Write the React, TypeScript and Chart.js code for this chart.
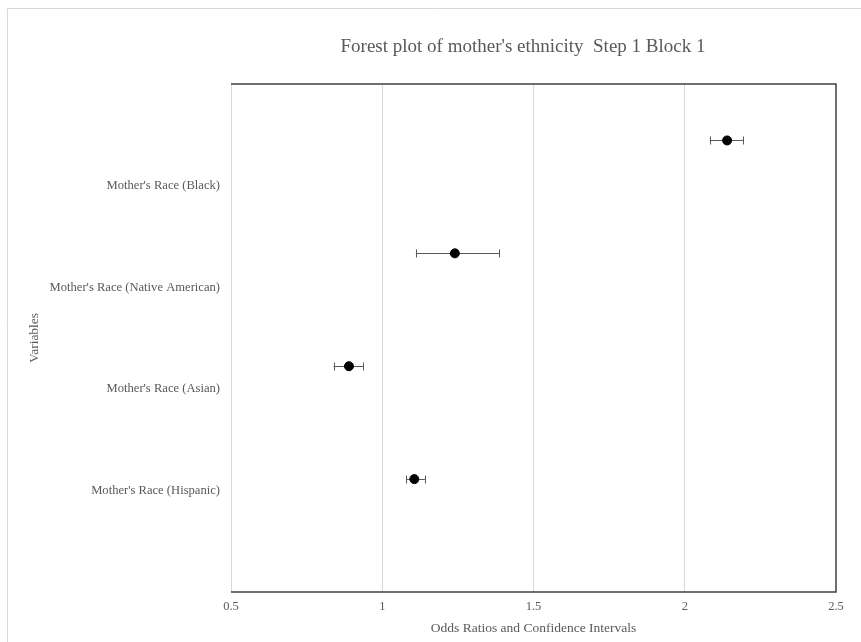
import React, { useEffect, useRef } from "react";
import { Chart, registerables } from "chart.js";

Chart.register(...registerables);

const chartTitle = "Forest plot of mother's ethnicity  Step 1 Block 1";
const xTitle = "Odds Ratios and Confidence Intervals";
const yTitle = "Variables";

// bottom to top
const categories = [
  "Mother's Race (Hispanic)",
  "Mother's Race (Asian)",
  "Mother's Race (Native American)",
  "Mother's Race (Black)",
];
const positions = [1, 2, 3, 4];
const oddsRatios = [1.106, 0.89, 1.24, 2.14];
const ciLower = [1.08, 0.839, 1.111, 2.083];
const ciUpper = [1.141, 0.937, 1.386, 2.193];
const xTicks = [0.5, 1, 1.5, 2, 2.5];

const FONT = "'Liberation Serif', 'Times New Roman', serif";
const TEXT = "#595959";
const GRID = "#d9d9d9";

const decor = {
  id: "decor",
  beforeDatasetsDraw(chart: any) {
    const ctx = chart.ctx;
    const xs = chart.scales.x;
    const ys = chart.scales.y2;
    ctx.save();
    ctx.strokeStyle = "#595959";
    ctx.lineWidth = 1;
    positions.forEach((p, i) => {
      const y = Math.round(ys.getPixelForValue(p)) + 0.5;
      const x1 = xs.getPixelForValue(ciLower[i]);
      const x2 = xs.getPixelForValue(ciUpper[i]);
      ctx.beginPath();
      ctx.moveTo(x1, y);
      ctx.lineTo(x2, y);
      ctx.moveTo(Math.round(x1) + 0.5, y - 4);
      ctx.lineTo(Math.round(x1) + 0.5, y + 4);
      ctx.moveTo(Math.round(x2) + 0.5, y - 4);
      ctx.lineTo(Math.round(x2) + 0.5, y + 4);
      ctx.stroke();
    });
    ctx.restore();
  },
  afterDraw(chart: any) {
    const ctx = chart.ctx;
    const a = chart.chartArea;
    ctx.save();
    // outer chart border
    ctx.strokeStyle = GRID;
    ctx.lineWidth = 1;
    ctx.beginPath();
    ctx.moveTo(7.5, chart.height);
    ctx.lineTo(7.5, 8.5);
    ctx.lineTo(chart.width, 8.5);
    ctx.stroke();
    // plot left border
    ctx.beginPath();
    ctx.moveTo(a.left + 0.5, a.top);
    ctx.lineTo(a.left + 0.5, a.bottom);
    ctx.stroke();
    // plot top/right/bottom border
    ctx.strokeStyle = "#404040";
    ctx.lineWidth = 1.5;
    ctx.beginPath();
    ctx.moveTo(a.left, a.top);
    ctx.lineTo(a.right, a.top);
    ctx.lineTo(a.right, a.bottom);
    ctx.lineTo(a.left, a.bottom);
    ctx.stroke();
    // title
    ctx.fillStyle = TEXT;
    ctx.font = `19px ${FONT}`;
    ctx.textAlign = "center";
    ctx.textBaseline = "middle";
    ctx.fillText(chartTitle, 523, 47);
    ctx.restore();
  },
};

export default function App() {
  const ref = useRef<HTMLCanvasElement | null>(null);
  useEffect(() => {
    if (!ref.current) return;
    const chart = new Chart(ref.current, {
      type: "scatter",
      data: {
        datasets: [
          {
            data: positions.map((p, i) => ({ x: oddsRatios[i], y: p })),
            yAxisID: "y2",
            backgroundColor: "#000000",
            borderColor: "#000000",
            pointRadius: 4.5,
            pointHoverRadius: 4.5,
          },
        ],
      },
      options: {
        responsive: false,
        animation: false,
        layout: { padding: { left: 26, right: 25, top: 84, bottom: 3 } },
        plugins: { legend: { display: false }, tooltip: { enabled: false }, title: { display: false } },
        scales: {
          x: {
            type: "linear",
            min: 0.5,
            max: 2.5,
            afterBuildTicks: (s: any) => {
              s.ticks = xTicks.map((v) => ({ value: v }));
            },
            afterFit: (s: any) => {
              s.height = 47;
            },
            grid: {
              color: (c: any) =>
                c.tick && (c.tick.value === 0.5 || c.tick.value === 2.5) ? "rgba(0,0,0,0)" : GRID,
              drawTicks: false,
            },
            border: { display: false },
            ticks: {
              color: TEXT,
              font: { family: FONT, size: 12.5 },
              padding: 7,
              maxRotation: 0,
              callback: (v: any) => String(v),
            },
            title: {
              display: true,
              text: xTitle,
              color: TEXT,
              font: { family: FONT, size: 13.5 },
              padding: { top: 4, bottom: 2 },
            },
          },
          y: {
            type: "linear",
            position: "left",
            min: 0,
            max: 5,
            afterBuildTicks: (s: any) => {
              s.ticks = positions.map((v) => ({ value: v }));
            },
            afterFit: (s: any) => {
              s.width = 205;
            },
            grid: { display: false, drawTicks: false },
            border: { display: false },
            ticks: {
              color: TEXT,
              font: { family: FONT, size: 12.6 },
              padding: 11,
              callback: (v: any) => categories[positions.indexOf(Number(v))] ?? "",
            },
            title: {
              display: true,
              text: yTitle,
              color: TEXT,
              font: { family: FONT, size: 13.5 },
              padding: { top: 0, bottom: 0 },
            },
          },
          y2: {
            type: "linear",
            display: false,
            min: 0,
            max: 4.5,
          },
        },
      },
      plugins: [decor],
    });
    return () => chart.destroy();
  }, []);
  return (
    <div style={{ position: "fixed", left: 0, top: 0, width: 861, height: 642, background: "#fff" }}>
      <canvas ref={ref} width={861} height={642} style={{ display: "block" }} />
    </div>
  );
}
